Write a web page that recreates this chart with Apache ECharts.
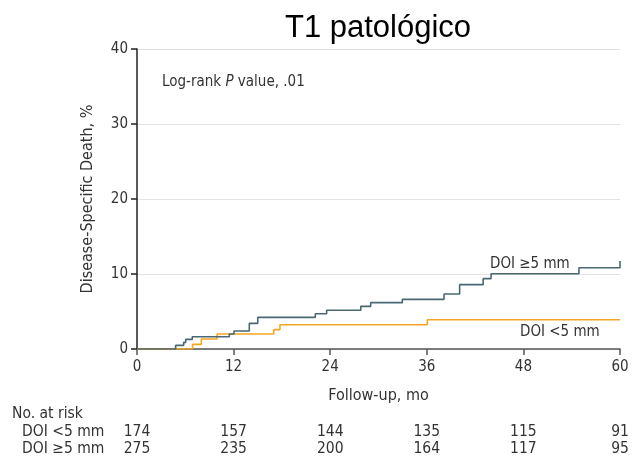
<!DOCTYPE html>
<html>
<head>
<meta charset="utf-8">
<script src="https://cdn.jsdelivr.net/npm/echarts@6/dist/echarts.min.js"></script>
<style>
  html, body { margin: 0; padding: 0; background: #fff; }
  #chart { width: 636px; height: 459px; }
</style>
</head>
<body>
<div id="chart"></div>
<script>
// Cumulative disease-specific death (%), Kaplan-Meier steps: [month, value from that month on]
const doiHigh = [
  [0, 0], [4.8, 0.49], [5.8, 0.89], [6.05, 1.29], [6.87, 1.64], [11.47, 2.0],
  [12.05, 2.4], [13.95, 3.42], [15.0, 4.22], [22.15, 4.71], [23.56, 5.16],
  [27.8, 5.69], [29.03, 6.18], [32.96, 6.62], [38.14, 7.33], [40.08, 8.58],
  [43.0, 9.38], [43.98, 10.04], [54.9, 10.84], [60, 11.73]
];
const doiLow = [
  [0, 0], [6.9, 0.62], [7.99, 1.33], [9.94, 2.0], [16.98, 2.58], [17.76, 3.24],
  [36.07, 3.91], [60, 3.91]
];

const riskMonths = [0, 12, 24, 36, 48, 60];
const riskLow = [174, 157, 144, 135, 115, 91];
const riskHigh = [275, 235, 200, 164, 117, 95];

const FONT = '"Liberation Sans Narrow", "DejaVu Sans Condensed", "Roboto Condensed", sans-serif';
const TXT = '#333333';
const colHigh = '#4a6873';
const colLow = '#f5a524';

const chart = echarts.init(document.getElementById('chart'), null, { renderer: 'canvas' });

const option = {
  animation: false,
  title: {
    text: 'T1 patológico',
    left: 373, top: 8, textAlign: 'center',
    textStyle: { fontFamily: '"Liberation Sans", Arial, sans-serif', fontSize: 31, fontWeight: 'normal', color: '#000' }
  },
  grid: { left: 137, right: 16, top: 49, bottom: 110 },
  xAxis: {
    type: 'value', min: 0, max: 60, interval: 12,
    name: 'Follow-up, mo', nameLocation: 'middle', nameGap: 39,
    nameTextStyle: { fontFamily: FONT, fontSize: 16, color: TXT },
    axisLine: { show: true, lineStyle: { color: '#555', width: 1.5 } },
    axisTick: { show: true, length: 6, lineStyle: { color: '#555', width: 1.5 } },
    axisLabel: { fontFamily: FONT, fontSize: 15, color: TXT, margin: 11 },
    splitLine: { show: false }
  },
  yAxis: {
    type: 'value', min: 0, max: 40, interval: 10,
    name: 'Disease-Specific Death, %', nameLocation: 'middle', nameGap: 41,
    nameTextStyle: { fontFamily: FONT, fontSize: 16, color: TXT },
    axisLine: { show: true, lineStyle: { color: '#222', width: 1.5 } },
    axisTick: { show: true, length: 6, lineStyle: { color: '#222', width: 1.5 } },
    axisLabel: { fontFamily: FONT, fontSize: 15, color: TXT, margin: 9 },
    splitLine: { show: true, lineStyle: { color: '#e3e3e3', width: 1 } }
  },
  series: [
    {
      name: 'DOI <5 mm', type: 'line', step: 'end', data: doiLow,
      symbol: 'none', lineStyle: { color: colLow, width: 1.6 }, z: 3
    },
    {
      name: 'DOI ≥5 mm', type: 'line', step: 'end', data: doiHigh,
      symbol: 'none', lineStyle: { color: colHigh, width: 1.6 }, z: 4
    }
  ]
};
chart.setOption(option);

// Annotations and number-at-risk table
const g = [];
const txt = (x, y, text, align, extra) => g.push({
  type: 'text', x: x, y: y,
  style: Object.assign({ text: text, fontFamily: FONT, fontSize: 15.5, fill: TXT, textAlign: align || 'left', textVerticalAlign: 'middle' }, extra || {})
});
txt(162, 82, '{a|Log-rank }{i|P}{a| value, .01}', 'left', {
  rich: {
    a: { fontFamily: FONT, fontSize: 15, color: TXT },
    i: { fontFamily: FONT, fontSize: 15, color: TXT, fontStyle: 'italic' }
  }
});
txt(490, 264, 'DOI ≥5 mm', 'left', { fontSize: 15 });
txt(520, 332, 'DOI <5 mm', 'left', { fontSize: 15 });
txt(12, 414, 'No. at risk', 'left');
txt(22, 432, 'DOI <5 mm', 'left');
txt(22, 449, 'DOI ≥5 mm', 'left');
riskMonths.forEach((m, i) => {
  const px = chart.convertToPixel({ xAxisIndex: 0 }, m);
  txt(px, 432, String(riskLow[i]), 'center');
  txt(px, 449, String(riskHigh[i]), 'center');
});
chart.setOption({ graphic: g });
</script>
</body>
</html>
